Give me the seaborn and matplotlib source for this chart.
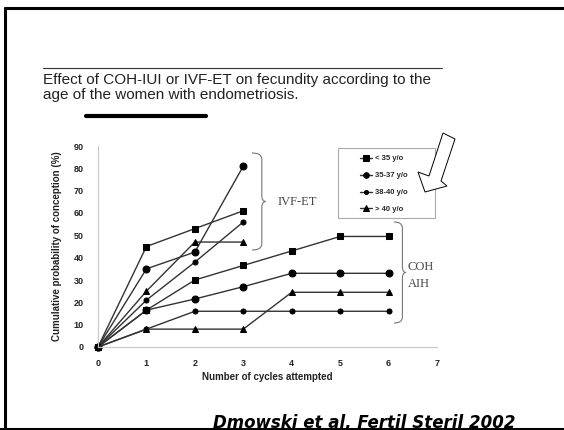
"""Cumulative conception probability by age: COH-IUI vs IVF-ET (slide recreation)."""

import matplotlib.pyplot as plt
import seaborn as sns
from matplotlib.lines import Line2D
from matplotlib.patches import PathPatch, Polygon, Rectangle
from matplotlib.path import Path

# data
age_groups = ["< 35 y/o", "35-37 y/o", "38-40 y/o", "> 40 y/o"]
cycles_ivf = [0, 1, 2, 3]
cycles_coh = [0, 1, 2, 3, 4, 5, 6]

ivf_lt35 = [0, 45, 53, 61]
ivf_35_37 = [0, 35, 42.5, 81]
ivf_38_40 = [0, 21, 38, 56]
ivf_gt40 = [0, 25, 47, 47]

coh_lt35 = [0, 16.5, 30, 36.5, 43, 49.5, 49.5]
coh_35_37 = [0, 16.5, 21.5, 27, 33, 33, 33]
coh_38_40 = [0, 8, 16, 16, 16, 16, 16]
coh_gt40 = [0, 8, 8, 8, 24.5, 24.5, 24.5]

x_ticks = list(range(0, 8))
y_ticks = list(range(0, 100, 10))

title_text = ("Effect of COH-IUI or IVF-ET on fecundity according to the\n"
              "age of the women with endometriosis.")
citation = "Dmowski et al. Fertil Steril 2002"

W, H = 564, 430


def fx(x):
    return x / W


def fy(y):
    return 1 - y / H


def brace(fig, x0, x1, y0, y1, r=6):
    xm = x0 + 0.7 * (x1 - x0)
    ym = (y0 + y1) / 2
    pts = [(x0, y0), (xm, y0), (xm, y0 + r), (xm, ym - r),
           (xm, ym), (x1, ym), (xm, ym), (xm, ym + r),
           (xm, y1 - r), (xm, y1), (x0, y1)]
    codes = [Path.MOVETO, Path.CURVE3, Path.CURVE3, Path.LINETO,
             Path.CURVE3, Path.CURVE3, Path.CURVE3, Path.CURVE3,
             Path.LINETO, Path.CURVE3, Path.CURVE3]
    verts = [(fx(px), fy(py)) for px, py in pts]
    fig.add_artist(PathPatch(Path(verts, codes), transform=fig.transFigure,
                             fill=False, edgecolor="#777777", lw=0.8))


sns.set_theme(style="white")
plt.rcParams["font.family"] = ["Liberation Sans", "DejaVu Sans"]

fig = plt.figure(figsize=(W / 100, H / 100), dpi=100)
ax = fig.add_axes([fx(98), fy(347), fx(437 - 98), (347 - 146) / H])

marker_style = {
    "< 35 y/o": dict(marker="s", markersize=5),
    "35-37 y/o": dict(marker="o", markersize=5),
    "38-40 y/o": dict(marker="o", markersize=3.6),
    "> 40 y/o": dict(marker="^", markersize=5),
}

ivf_series = [ivf_lt35, ivf_35_37, ivf_38_40, ivf_gt40]
coh_series = [coh_lt35, coh_35_37, coh_38_40, coh_gt40]

for age, vals in zip(age_groups, ivf_series):
    sns.lineplot(x=cycles_ivf, y=vals, ax=ax, color="#333333", lw=1.0,
                 markerfacecolor="black", markeredgecolor="black",
                 label=age, clip_on=False, **marker_style[age])
for age, vals in zip(age_groups, coh_series):
    sns.lineplot(x=cycles_coh, y=vals, ax=ax, color="#333333", lw=1.0,
                 markerfacecolor="black", markeredgecolor="black",
                 label="_nolegend_", clip_on=False, **marker_style[age])

ax.set_xlim(0, 7)
ax.set_ylim(0, 90)
ax.set_xticks(x_ticks)
ax.set_yticks(y_ticks)
ax.set_xticklabels([str(t) for t in x_ticks], fontsize=6.5, fontweight="bold", color="#222222")
ax.set_yticklabels([str(t) for t in y_ticks], fontsize=6.5, fontweight="bold", color="#222222")
ax.tick_params(axis="both", length=2.5, width=0.6, color="#bbbbbb", direction="out")
ax.tick_params(axis="x", pad=6)
ax.tick_params(axis="y", pad=8)
for side in ("top", "right"):
    ax.spines[side].set_visible(False)
for side in ("left", "bottom"):
    ax.spines[side].set_color("#c8c8c8")
    ax.spines[side].set_linewidth(0.8)
ax.set_xlabel("Number of cycles attempted", fontsize=7, fontweight="bold",
              color="#222222", labelpad=3)
ax.set_ylabel("Cumulative probability of conception (%)", fontsize=7,
              fontweight="bold", color="#222222", labelpad=8)

# legend with its own box
fig.add_artist(Rectangle((fx(338), fy(218)), fx(435 - 338), (218 - 148) / H,
                         transform=fig.transFigure, fill=False,
                         edgecolor="#aaaaaa", lw=0.8))
ax.legend(loc="upper left", bbox_to_anchor=(fx(354), fy(149)),
          bbox_transform=fig.transFigure, frameon=False,
          prop={"size": 5.5, "weight": "bold"}, handlelength=1.6,
          handletextpad=0.3, labelspacing=1.25, markerscale=0.8,
          borderpad=0.3)

# braces and group labels
brace(fig, 252, 266, 153, 250)
fig.text(fx(278), fy(202), "IVF-ET", fontsize=9, family="Liberation Serif",
         color="#444444", va="center", ha="left")
brace(fig, 394, 406, 222, 323)
fig.text(fx(408), fy(267), "COH", fontsize=9, family="Liberation Serif",
         color="#444444", va="center", ha="left")
fig.text(fx(408), fy(284), "AIH", fontsize=9, family="Liberation Serif",
         color="#444444", va="center", ha="left")

# hollow block arrow pointing at the legend
arrow_pts = [(443, 133), (455, 139), (441, 181), (447, 186),
             (425, 192), (418, 172), (429, 176)]
fig.add_artist(Polygon([(fx(px), fy(py)) for px, py in arrow_pts], closed=True,
                       transform=fig.transFigure, facecolor="white",
                       edgecolor="black", lw=0.7))

# title block
fig.add_artist(Line2D([fx(43), fx(442)], [fy(68), fy(68)],
                      transform=fig.transFigure, color="#333333", lw=0.8))
fig.text(fx(43), fy(73), title_text, fontsize=11, color="#222222",
         va="top", ha="left", linespacing=1.1)
fig.add_artist(Line2D([fx(86), fx(206)], [fy(115.5), fy(115.5)],
                      transform=fig.transFigure, color="black", lw=3))

# citation, sitting on the slide border
fig.text(fx(213), fy(427.5), citation, fontsize=12, family="DejaVu Sans",
         fontweight="bold", fontstyle="italic", color="black",
         va="baseline", ha="left")

# slide border
fig.add_artist(Line2D([fx(5), fx(5)], [fy(8), fy(429)],
                      transform=fig.transFigure, color="black", lw=2.2))
fig.add_artist(Line2D([fx(5), 1], [fy(8), fy(8)],
                      transform=fig.transFigure, color="black", lw=2.2))
fig.add_artist(Line2D([0, 1], [fy(429), fy(429)],
                      transform=fig.transFigure, color="black", lw=2.2))

fig.savefig("out.png", dpi=100)
plt.close(fig)
